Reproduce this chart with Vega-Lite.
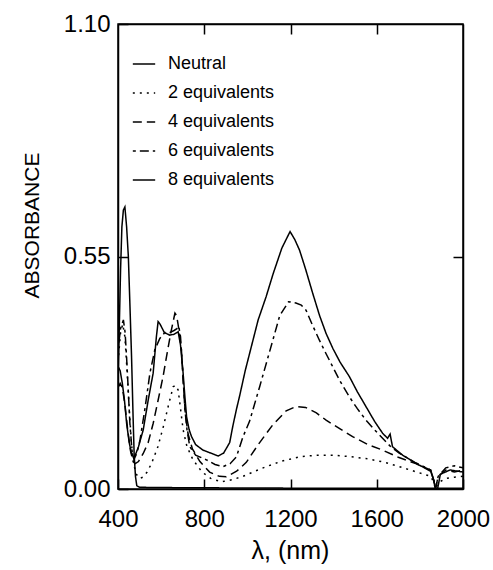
{
  "$schema": "https://vega.github.io/schema/vega-lite/v6.json",
  "width": 345,
  "height": 465,
  "autosize": {"type": "none"},
  "padding": {"left": 118, "top": 24, "right": 30, "bottom": 81},
  "background": "white",
  "config": {
    "view": {"stroke": "black", "strokeWidth": 1.5},
    "axis": {
      "grid": false,
      "domainColor": "black",
      "domainWidth": 1.5,
      "tickColor": "black",
      "tickWidth": 1.5,
      "tickSize": -10,
      "labelFont": "Liberation Sans",
      "labelFontSize": 24,
      "labelColor": "black",
      "titleFont": "Liberation Sans",
      "titleFontWeight": "normal",
      "titleColor": "black"
    },
    "legend": {
      "orient": "none",
      "legendX": 14,
      "legendY": 28,
      "symbolType": "stroke",
      "symbolSize": 500,
      "symbolStrokeColor": "black",
      "symbolStrokeWidth": 1.5,
      "labelFont": "Liberation Sans",
      "labelFontSize": 18,
      "labelColor": "black",
      "labelOffset": 12,
      "rowPadding": 8,
      "padding": 0
    }
  },
  "datasets": {
    "spectra": [
      {"s": "Neutral", "x": 400, "y": 0.25},
      {"s": "Neutral", "x": 405, "y": 0.36},
      {"s": "Neutral", "x": 412, "y": 0.52},
      {"s": "Neutral", "x": 418, "y": 0.62},
      {"s": "Neutral", "x": 425, "y": 0.66},
      {"s": "Neutral", "x": 432, "y": 0.667},
      {"s": "Neutral", "x": 440, "y": 0.62},
      {"s": "Neutral", "x": 448, "y": 0.55},
      {"s": "Neutral", "x": 455, "y": 0.44},
      {"s": "Neutral", "x": 463, "y": 0.31},
      {"s": "Neutral", "x": 470, "y": 0.17},
      {"s": "Neutral", "x": 475, "y": 0.08},
      {"s": "Neutral", "x": 481, "y": 0.03},
      {"s": "Neutral", "x": 487, "y": 0.008},
      {"s": "Neutral", "x": 500, "y": 0.004},
      {"s": "Neutral", "x": 700, "y": 0.003},
      {"s": "Neutral", "x": 1200, "y": 0.002},
      {"s": "Neutral", "x": 1600, "y": 0.002},
      {"s": "Neutral", "x": 2000, "y": 0.002},

      {"s": "2 equivalents", "x": 400, "y": 0.30},
      {"s": "2 equivalents", "x": 412, "y": 0.37},
      {"s": "2 equivalents", "x": 422, "y": 0.39},
      {"s": "2 equivalents", "x": 432, "y": 0.36},
      {"s": "2 equivalents", "x": 442, "y": 0.28},
      {"s": "2 equivalents", "x": 452, "y": 0.19},
      {"s": "2 equivalents", "x": 462, "y": 0.11},
      {"s": "2 equivalents", "x": 472, "y": 0.06},
      {"s": "2 equivalents", "x": 485, "y": 0.035},
      {"s": "2 equivalents", "x": 500, "y": 0.025},
      {"s": "2 equivalents", "x": 516, "y": 0.028},
      {"s": "2 equivalents", "x": 535, "y": 0.04},
      {"s": "2 equivalents", "x": 556, "y": 0.061},
      {"s": "2 equivalents", "x": 585, "y": 0.10},
      {"s": "2 equivalents", "x": 610, "y": 0.147},
      {"s": "2 equivalents", "x": 635, "y": 0.20},
      {"s": "2 equivalents", "x": 656, "y": 0.242},
      {"s": "2 equivalents", "x": 668, "y": 0.245},
      {"s": "2 equivalents", "x": 679, "y": 0.234},
      {"s": "2 equivalents", "x": 690, "y": 0.19},
      {"s": "2 equivalents", "x": 702, "y": 0.14},
      {"s": "2 equivalents", "x": 720, "y": 0.10},
      {"s": "2 equivalents", "x": 748, "y": 0.069},
      {"s": "2 equivalents", "x": 790, "y": 0.04},
      {"s": "2 equivalents", "x": 830, "y": 0.025},
      {"s": "2 equivalents", "x": 879, "y": 0.017},
      {"s": "2 equivalents", "x": 930, "y": 0.022},
      {"s": "2 equivalents", "x": 980, "y": 0.03},
      {"s": "2 equivalents", "x": 1040, "y": 0.043},
      {"s": "2 equivalents", "x": 1088, "y": 0.053},
      {"s": "2 equivalents", "x": 1160, "y": 0.066},
      {"s": "2 equivalents", "x": 1242, "y": 0.076},
      {"s": "2 equivalents", "x": 1320, "y": 0.08},
      {"s": "2 equivalents", "x": 1396, "y": 0.08},
      {"s": "2 equivalents", "x": 1470, "y": 0.077},
      {"s": "2 equivalents", "x": 1550, "y": 0.072},
      {"s": "2 equivalents", "x": 1630, "y": 0.064},
      {"s": "2 equivalents", "x": 1704, "y": 0.053},
      {"s": "2 equivalents", "x": 1780, "y": 0.041},
      {"s": "2 equivalents", "x": 1850, "y": 0.03},
      {"s": "2 equivalents", "x": 1865, "y": 0.015},
      {"s": "2 equivalents", "x": 1872, "y": 0.0},
      {"s": "2 equivalents", "x": 1885, "y": 0.015},
      {"s": "2 equivalents", "x": 1920, "y": 0.025},
      {"s": "2 equivalents", "x": 1960, "y": 0.028},
      {"s": "2 equivalents", "x": 2000, "y": 0.03},

      {"s": "4 equivalents", "x": 400, "y": 0.24},
      {"s": "4 equivalents", "x": 410, "y": 0.25},
      {"s": "4 equivalents", "x": 420, "y": 0.24},
      {"s": "4 equivalents", "x": 432, "y": 0.20},
      {"s": "4 equivalents", "x": 445, "y": 0.14},
      {"s": "4 equivalents", "x": 458, "y": 0.09},
      {"s": "4 equivalents", "x": 470, "y": 0.065},
      {"s": "4 equivalents", "x": 480, "y": 0.06},
      {"s": "4 equivalents", "x": 495, "y": 0.065},
      {"s": "4 equivalents", "x": 517, "y": 0.084},
      {"s": "4 equivalents", "x": 540, "y": 0.11},
      {"s": "4 equivalents", "x": 563, "y": 0.155},
      {"s": "4 equivalents", "x": 586, "y": 0.21},
      {"s": "4 equivalents", "x": 609, "y": 0.266},
      {"s": "4 equivalents", "x": 625, "y": 0.313},
      {"s": "4 equivalents", "x": 645, "y": 0.37},
      {"s": "4 equivalents", "x": 664, "y": 0.416},
      {"s": "4 equivalents", "x": 672, "y": 0.41},
      {"s": "4 equivalents", "x": 680, "y": 0.385},
      {"s": "4 equivalents", "x": 694, "y": 0.33},
      {"s": "4 equivalents", "x": 703, "y": 0.25},
      {"s": "4 equivalents", "x": 712, "y": 0.18},
      {"s": "4 equivalents", "x": 725, "y": 0.13},
      {"s": "4 equivalents", "x": 745, "y": 0.095},
      {"s": "4 equivalents", "x": 780, "y": 0.065},
      {"s": "4 equivalents", "x": 825, "y": 0.04},
      {"s": "4 equivalents", "x": 870, "y": 0.03},
      {"s": "4 equivalents", "x": 902, "y": 0.029},
      {"s": "4 equivalents", "x": 950, "y": 0.042},
      {"s": "4 equivalents", "x": 995, "y": 0.063},
      {"s": "4 equivalents", "x": 1050, "y": 0.105},
      {"s": "4 equivalents", "x": 1118, "y": 0.152},
      {"s": "4 equivalents", "x": 1180, "y": 0.185},
      {"s": "4 equivalents", "x": 1226, "y": 0.195},
      {"s": "4 equivalents", "x": 1270, "y": 0.193},
      {"s": "4 equivalents", "x": 1320, "y": 0.18},
      {"s": "4 equivalents", "x": 1365, "y": 0.163},
      {"s": "4 equivalents", "x": 1430, "y": 0.142},
      {"s": "4 equivalents", "x": 1488, "y": 0.124},
      {"s": "4 equivalents", "x": 1560, "y": 0.105},
      {"s": "4 equivalents", "x": 1627, "y": 0.092},
      {"s": "4 equivalents", "x": 1700, "y": 0.075},
      {"s": "4 equivalents", "x": 1781, "y": 0.06},
      {"s": "4 equivalents", "x": 1850, "y": 0.045},
      {"s": "4 equivalents", "x": 1865, "y": 0.02},
      {"s": "4 equivalents", "x": 1872, "y": 0.0},
      {"s": "4 equivalents", "x": 1885, "y": 0.03},
      {"s": "4 equivalents", "x": 1920, "y": 0.045},
      {"s": "4 equivalents", "x": 1960, "y": 0.04},
      {"s": "4 equivalents", "x": 2000, "y": 0.045},

      {"s": "6 equivalents", "x": 400, "y": 0.33},
      {"s": "6 equivalents", "x": 412, "y": 0.38},
      {"s": "6 equivalents", "x": 425, "y": 0.40},
      {"s": "6 equivalents", "x": 433, "y": 0.37},
      {"s": "6 equivalents", "x": 440, "y": 0.31},
      {"s": "6 equivalents", "x": 448, "y": 0.23},
      {"s": "6 equivalents", "x": 455, "y": 0.156},
      {"s": "6 equivalents", "x": 465, "y": 0.09},
      {"s": "6 equivalents", "x": 474, "y": 0.07},
      {"s": "6 equivalents", "x": 488, "y": 0.085},
      {"s": "6 equivalents", "x": 502, "y": 0.116},
      {"s": "6 equivalents", "x": 525, "y": 0.19},
      {"s": "6 equivalents", "x": 548, "y": 0.274},
      {"s": "6 equivalents", "x": 571, "y": 0.33},
      {"s": "6 equivalents", "x": 594, "y": 0.356},
      {"s": "6 equivalents", "x": 617, "y": 0.37},
      {"s": "6 equivalents", "x": 640, "y": 0.37},
      {"s": "6 equivalents", "x": 660, "y": 0.375},
      {"s": "6 equivalents", "x": 675, "y": 0.38},
      {"s": "6 equivalents", "x": 682, "y": 0.385},
      {"s": "6 equivalents", "x": 690, "y": 0.36},
      {"s": "6 equivalents", "x": 700, "y": 0.28},
      {"s": "6 equivalents", "x": 710, "y": 0.19},
      {"s": "6 equivalents", "x": 720, "y": 0.14},
      {"s": "6 equivalents", "x": 733, "y": 0.10},
      {"s": "6 equivalents", "x": 760, "y": 0.08},
      {"s": "6 equivalents", "x": 810, "y": 0.069},
      {"s": "6 equivalents", "x": 850, "y": 0.058},
      {"s": "6 equivalents", "x": 887, "y": 0.053},
      {"s": "6 equivalents", "x": 920, "y": 0.06},
      {"s": "6 equivalents", "x": 949, "y": 0.076},
      {"s": "6 equivalents", "x": 980, "y": 0.124},
      {"s": "6 equivalents", "x": 1010, "y": 0.16},
      {"s": "6 equivalents", "x": 1057, "y": 0.242},
      {"s": "6 equivalents", "x": 1118, "y": 0.352},
      {"s": "6 equivalents", "x": 1150, "y": 0.41},
      {"s": "6 equivalents", "x": 1191, "y": 0.443},
      {"s": "6 equivalents", "x": 1225, "y": 0.44},
      {"s": "6 equivalents", "x": 1250, "y": 0.435},
      {"s": "6 equivalents", "x": 1272, "y": 0.423},
      {"s": "6 equivalents", "x": 1300, "y": 0.39},
      {"s": "6 equivalents", "x": 1334, "y": 0.352},
      {"s": "6 equivalents", "x": 1365, "y": 0.32},
      {"s": "6 equivalents", "x": 1396, "y": 0.289},
      {"s": "6 equivalents", "x": 1430, "y": 0.255},
      {"s": "6 equivalents", "x": 1473, "y": 0.218},
      {"s": "6 equivalents", "x": 1510, "y": 0.19},
      {"s": "6 equivalents", "x": 1550, "y": 0.163},
      {"s": "6 equivalents", "x": 1590, "y": 0.14},
      {"s": "6 equivalents", "x": 1627, "y": 0.12},
      {"s": "6 equivalents", "x": 1665, "y": 0.10},
      {"s": "6 equivalents", "x": 1704, "y": 0.085},
      {"s": "6 equivalents", "x": 1780, "y": 0.062},
      {"s": "6 equivalents", "x": 1850, "y": 0.045},
      {"s": "6 equivalents", "x": 1865, "y": 0.02},
      {"s": "6 equivalents", "x": 1872, "y": 0.0},
      {"s": "6 equivalents", "x": 1885, "y": 0.03},
      {"s": "6 equivalents", "x": 1920, "y": 0.05},
      {"s": "6 equivalents", "x": 1960, "y": 0.055},
      {"s": "6 equivalents", "x": 2000, "y": 0.05},

      {"s": "8 equivalents", "x": 400, "y": 0.29},
      {"s": "8 equivalents", "x": 410, "y": 0.28},
      {"s": "8 equivalents", "x": 420, "y": 0.25},
      {"s": "8 equivalents", "x": 430, "y": 0.21},
      {"s": "8 equivalents", "x": 440, "y": 0.155},
      {"s": "8 equivalents", "x": 452, "y": 0.11},
      {"s": "8 equivalents", "x": 462, "y": 0.085},
      {"s": "8 equivalents", "x": 471, "y": 0.076},
      {"s": "8 equivalents", "x": 480, "y": 0.08},
      {"s": "8 equivalents", "x": 495, "y": 0.10},
      {"s": "8 equivalents", "x": 517, "y": 0.14},
      {"s": "8 equivalents", "x": 540, "y": 0.21},
      {"s": "8 equivalents", "x": 563, "y": 0.274},
      {"s": "8 equivalents", "x": 578, "y": 0.36},
      {"s": "8 equivalents", "x": 586, "y": 0.396},
      {"s": "8 equivalents", "x": 595, "y": 0.39},
      {"s": "8 equivalents", "x": 615, "y": 0.37},
      {"s": "8 equivalents", "x": 640, "y": 0.364},
      {"s": "8 equivalents", "x": 660, "y": 0.366},
      {"s": "8 equivalents", "x": 679, "y": 0.372},
      {"s": "8 equivalents", "x": 690, "y": 0.34},
      {"s": "8 equivalents", "x": 702, "y": 0.274},
      {"s": "8 equivalents", "x": 710, "y": 0.22},
      {"s": "8 equivalents", "x": 718, "y": 0.171},
      {"s": "8 equivalents", "x": 730, "y": 0.14},
      {"s": "8 equivalents", "x": 741, "y": 0.124},
      {"s": "8 equivalents", "x": 760, "y": 0.105},
      {"s": "8 equivalents", "x": 794, "y": 0.092},
      {"s": "8 equivalents", "x": 830, "y": 0.085},
      {"s": "8 equivalents", "x": 864, "y": 0.078},
      {"s": "8 equivalents", "x": 890, "y": 0.085},
      {"s": "8 equivalents", "x": 918, "y": 0.11},
      {"s": "8 equivalents", "x": 933, "y": 0.15},
      {"s": "8 equivalents", "x": 950, "y": 0.19},
      {"s": "8 equivalents", "x": 964, "y": 0.22},
      {"s": "8 equivalents", "x": 990, "y": 0.28},
      {"s": "8 equivalents", "x": 1010, "y": 0.32},
      {"s": "8 equivalents", "x": 1050, "y": 0.40},
      {"s": "8 equivalents", "x": 1087, "y": 0.455},
      {"s": "8 equivalents", "x": 1120, "y": 0.51},
      {"s": "8 equivalents", "x": 1160, "y": 0.57},
      {"s": "8 equivalents", "x": 1198, "y": 0.609},
      {"s": "8 equivalents", "x": 1220, "y": 0.59},
      {"s": "8 equivalents", "x": 1242, "y": 0.565},
      {"s": "8 equivalents", "x": 1270, "y": 0.52},
      {"s": "8 equivalents", "x": 1303, "y": 0.463},
      {"s": "8 equivalents", "x": 1335, "y": 0.41},
      {"s": "8 equivalents", "x": 1365, "y": 0.368},
      {"s": "8 equivalents", "x": 1396, "y": 0.333},
      {"s": "8 equivalents", "x": 1430, "y": 0.30},
      {"s": "8 equivalents", "x": 1473, "y": 0.266},
      {"s": "8 equivalents", "x": 1510, "y": 0.23},
      {"s": "8 equivalents", "x": 1550, "y": 0.195},
      {"s": "8 equivalents", "x": 1590, "y": 0.16},
      {"s": "8 equivalents", "x": 1627, "y": 0.132},
      {"s": "8 equivalents", "x": 1650, "y": 0.12},
      {"s": "8 equivalents", "x": 1662, "y": 0.13},
      {"s": "8 equivalents", "x": 1673, "y": 0.10},
      {"s": "8 equivalents", "x": 1720, "y": 0.08},
      {"s": "8 equivalents", "x": 1781, "y": 0.061},
      {"s": "8 equivalents", "x": 1850, "y": 0.042},
      {"s": "8 equivalents", "x": 1865, "y": 0.02},
      {"s": "8 equivalents", "x": 1872, "y": 0.0},
      {"s": "8 equivalents", "x": 1882, "y": 0.0},
      {"s": "8 equivalents", "x": 1895, "y": 0.035},
      {"s": "8 equivalents", "x": 1940, "y": 0.045},
      {"s": "8 equivalents", "x": 2000, "y": 0.04}
    ]
  },
  "data": {"name": "spectra"},
  "resolve": {"axis": {"x": "independent", "y": "independent"}},
  "layer": [
    {
      "mark": {"type": "line", "color": "black", "strokeWidth": 1.5, "clip": true},
      "encoding": {
        "x": {
          "field": "x", "type": "quantitative",
          "scale": {"domain": [400, 2000], "nice": false, "zero": false},
          "axis": {
            "orient": "bottom",
            "values": [400, 800, 1200, 1600, 2000],
            "format": "d",
            "labelPadding": 28,
            "labelFlush": false,
            "title": "λ, (nm)",
            "titleFontSize": 25,
            "titleX": 172,
            "titleY": 61,
            "titleBaseline": "middle"
          }
        },
        "y": {
          "field": "y", "type": "quantitative",
          "scale": {"domain": [0, 1.1], "nice": false},
          "axis": {
            "orient": "left",
            "values": [0, 0.55, 1.1],
            "format": ".2f",
            "labelPadding": 18,
            "labelFlush": false,
            "title": "ABSORBANCE",
            "titleFontSize": 21,
            "titleX": -86,
            "titleY": 201,
            "titleBaseline": "middle"
          }
        },
        "strokeDash": {
          "field": "s", "type": "nominal",
          "scale": {
            "domain": ["Neutral", "2 equivalents", "4 equivalents", "6 equivalents", "8 equivalents"],
            "range": [[1, 0], [2, 5], [9, 5], [3, 4, 9, 4], [1, 0]]
          },
          "legend": {"title": null}
        }
      }
    },
    {
      "mark": {"type": "point", "opacity": 0},
      "encoding": {
        "x": {
          "field": "x", "type": "quantitative",
          "axis": {"orient": "top", "values": [800, 1200, 1600], "labels": false, "title": null}
        },
        "y": {
          "field": "y", "type": "quantitative",
          "axis": {"orient": "right", "values": [0.55], "labels": false, "title": null}
        }
      }
    }
  ]
}
